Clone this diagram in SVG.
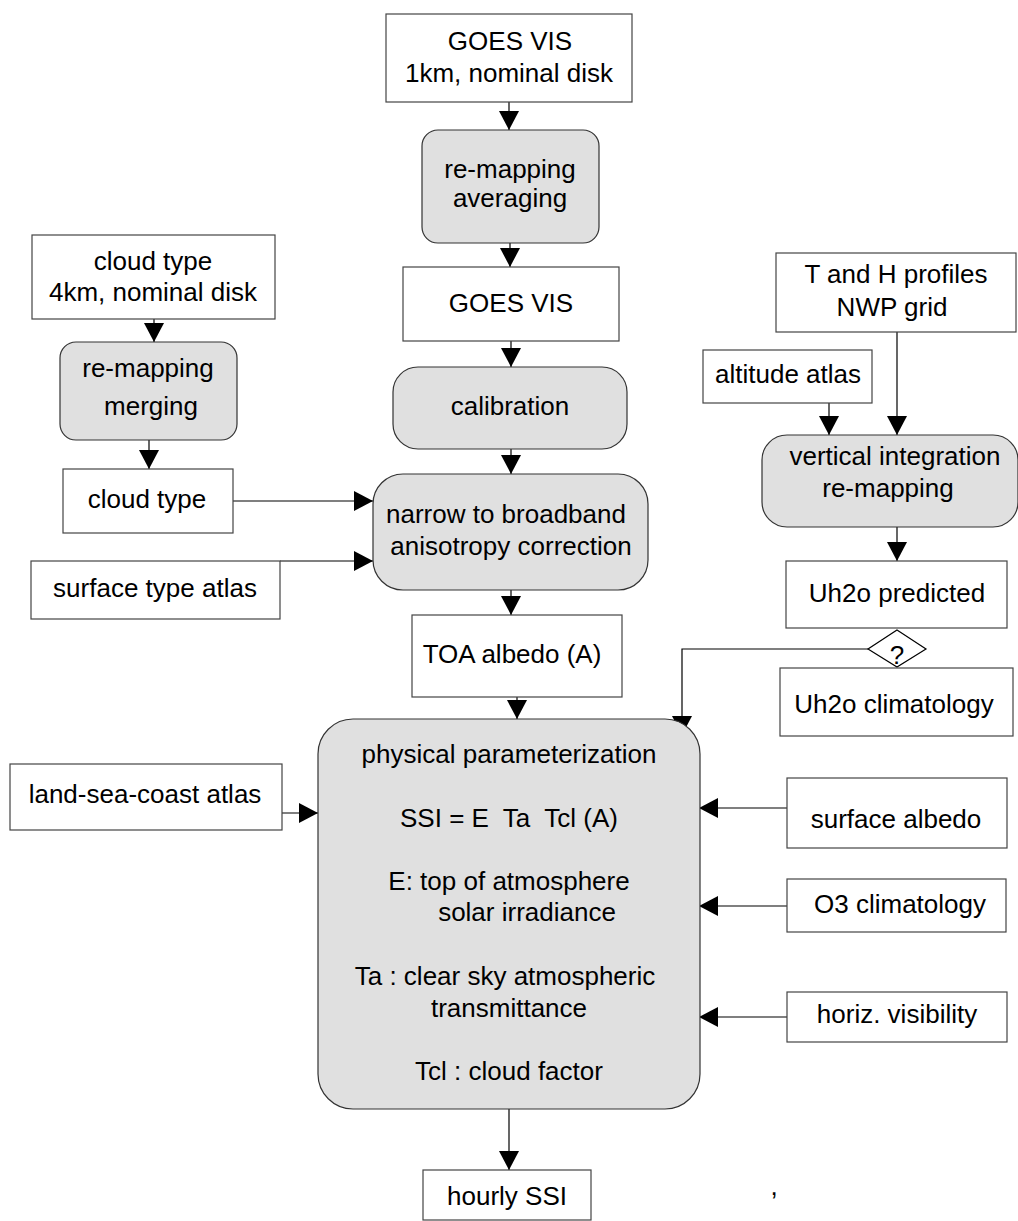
<svg xmlns="http://www.w3.org/2000/svg" width="1018" height="1221" viewBox="0 0 1018 1221">
<style>
.box{fill:#ffffff;stroke:#444;stroke-width:1.2}
.proc{fill:#e0e0e0;stroke:#333;stroke-width:1.2}
.t{font-family:"Liberation Sans",Arial,sans-serif;font-size:26px;fill:#000;text-anchor:middle}
.c{fill:none;stroke:#000;stroke-width:1.2}
</style>
<defs>
<marker id="ah" markerUnits="userSpaceOnUse" markerWidth="20" markerHeight="20" refX="19" refY="10" orient="auto" viewBox="0 0 20 20">
<path d="M0,0 L19,10 L0,20 z" fill="#000"/>
</marker>
</defs>
<rect width="1018" height="1221" fill="#fff"/>

<g id="connectors">
<line class="c" x1="509" y1="102" x2="509" y2="130" marker-end="url(#ah)"/>
<line class="c" x1="510" y1="243" x2="510" y2="267" marker-end="url(#ah)"/>
<line class="c" x1="511" y1="341" x2="511" y2="367" marker-end="url(#ah)"/>
<line class="c" x1="511" y1="449" x2="511" y2="474" marker-end="url(#ah)"/>
<line class="c" x1="511" y1="590" x2="511" y2="615" marker-end="url(#ah)"/>
<line class="c" x1="517" y1="697" x2="517" y2="719" marker-end="url(#ah)"/>
<line class="c" x1="154" y1="319" x2="154" y2="342" marker-end="url(#ah)"/>
<line class="c" x1="149" y1="440" x2="149" y2="469" marker-end="url(#ah)"/>
<line class="c" x1="233" y1="501" x2="373" y2="501" marker-end="url(#ah)"/>
<line class="c" x1="280" y1="561" x2="373" y2="561" marker-end="url(#ah)"/>
<line class="c" x1="897" y1="332" x2="897" y2="435" marker-end="url(#ah)"/>
<line class="c" x1="829" y1="403" x2="829" y2="435" marker-end="url(#ah)"/>
<line class="c" x1="897" y1="527" x2="897" y2="561" marker-end="url(#ah)"/>
<path class="c" d="M868,649 H682 V735" marker-end="url(#ah)"/>
<line class="c" x1="282" y1="813" x2="318" y2="813" marker-end="url(#ah)"/>
<line class="c" x1="787" y1="808" x2="699" y2="808" marker-end="url(#ah)"/>
<line class="c" x1="787" y1="906" x2="699" y2="906" marker-end="url(#ah)"/>
<line class="c" x1="787" y1="1017" x2="699" y2="1017" marker-end="url(#ah)"/>
<line class="c" x1="509" y1="1109" x2="509" y2="1170" marker-end="url(#ah)"/>
</g>

<g id="goes-vis-1km">
<rect class="box" x="386" y="14" width="246" height="88"/>
<text class="t" x="510" y="50">GOES VIS</text>
<text class="t" x="509" y="82">1km, nominal disk</text>
</g>
<g id="remap-avg">
<rect class="proc" x="422" y="130" width="177" height="113" rx="16"/>
<text class="t" x="510" y="178">re-mapping</text>
<text class="t" x="510" y="207">averaging</text>
</g>
<g id="goes-vis">
<rect class="box" x="403" y="267" width="216" height="74"/>
<text class="t" x="511" y="312">GOES VIS</text>
</g>
<g id="calibration">
<rect class="proc" x="393" y="367" width="234" height="82" rx="25"/>
<text class="t" x="510" y="415">calibration</text>
</g>
<g id="narrow">
<rect class="proc" x="373" y="474" width="275" height="116" rx="30"/>
<text class="t" x="506" y="523">narrow to broadband</text>
<text class="t" x="511" y="555">anisotropy correction</text>
</g>
<g id="toa-albedo">
<rect class="box" x="412" y="615" width="210" height="82"/>
<text class="t" x="512" y="663">TOA albedo (A)</text>
</g>
<g id="cloud-type-4km">
<rect class="box" x="32" y="235" width="243" height="84"/>
<text class="t" x="153" y="270">cloud type</text>
<text class="t" x="153" y="301">4km, nominal disk</text>
</g>
<g id="remap-merge">
<rect class="proc" x="60" y="342" width="177" height="98" rx="16"/>
<text class="t" x="148" y="377">re-mapping</text>
<text class="t" x="151" y="415">merging</text>
</g>
<g id="cloud-type">
<rect class="box" x="63" y="469" width="170" height="64"/>
<text class="t" x="147" y="508">cloud type</text>
</g>
<g id="surface-type-atlas">
<rect class="box" x="31" y="561" width="249" height="58"/>
<text class="t" x="155" y="597">surface type atlas</text>
</g>
<g id="t-h-profiles">
<rect class="box" x="776" y="253" width="240" height="79"/>
<text class="t" x="896" y="283">T and H profiles</text>
<text class="t" x="892" y="316">NWP grid</text>
</g>
<g id="altitude-atlas">
<rect class="box" x="703" y="350" width="169" height="53"/>
<text class="t" x="788" y="383">altitude atlas</text>
</g>
<g id="vertical-integration">
<rect class="proc" x="762" y="435" width="256" height="92" rx="25"/>
<text class="t" x="895" y="465">vertical integration</text>
<text class="t" x="888" y="497">re-mapping</text>
</g>
<g id="uh2o-predicted">
<rect class="box" x="786" y="561" width="221" height="67"/>
<text class="t" x="897" y="602">Uh2o predicted</text>
</g>
<g id="decision">
<polygon points="897,630 926,649 897,667 868,649" fill="#fff" stroke="#000" stroke-width="1.2"/>
<text class="t" x="897" y="664">?</text>
</g>
<g id="uh2o-climatology">
<rect class="box" x="780" y="668" width="233" height="68"/>
<text class="t" x="894" y="713">Uh2o climatology</text>
</g>
<g id="physical-param">
<rect class="proc" x="318" y="719" width="382" height="390" rx="35"/>
<text class="t" x="509" y="763">physical parameterization</text>
<text class="t" x="509" y="827" xml:space="preserve">SSI = E  Ta  Tcl (A)</text>
<text class="t" x="509" y="890">E: top of atmosphere</text>
<text class="t" x="527" y="921">solar irradiance</text>
<text class="t" x="505" y="985">Ta : clear sky atmospheric</text>
<text class="t" x="509" y="1017">transmittance</text>
<text class="t" x="509" y="1080">Tcl : cloud factor</text>
</g>
<g id="land-sea-coast">
<rect class="box" x="10" y="764" width="272" height="66"/>
<text class="t" x="145" y="803">land-sea-coast atlas</text>
</g>
<g id="surface-albedo">
<rect class="box" x="787" y="778" width="220" height="70"/>
<text class="t" x="896" y="828">surface albedo</text>
</g>
<g id="o3-climatology">
<rect class="box" x="787" y="879" width="219" height="53"/>
<text class="t" x="900" y="913">O3 climatology</text>
</g>
<g id="horiz-visibility">
<rect class="box" x="787" y="992" width="220" height="50"/>
<text class="t" x="897" y="1023">horiz. visibility</text>
</g>
<g id="hourly-ssi">
<rect class="box" x="423" y="1170" width="168" height="50"/>
<text class="t" x="507" y="1205">hourly SSI</text>
</g>
<text class="t" x="774" y="1195">,</text>
</svg>
